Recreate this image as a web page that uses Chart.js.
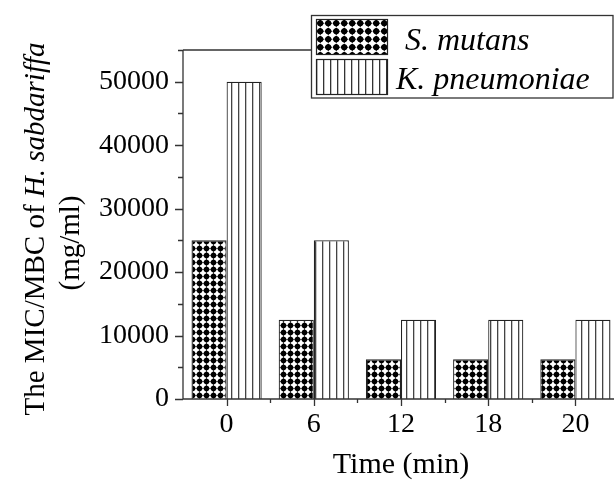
<!DOCTYPE html>
<html>
<head>
<meta charset="utf-8">
<script src="https://cdn.jsdelivr.net/npm/chart.js@4/dist/chart.umd.min.js"></script>
<style>
html,body{margin:0;padding:0;overflow:hidden;background:#fff;}
#wrap{width:619px;height:483px;position:relative;}
</style>
</head>
<body>
<div id="wrap"><canvas id="c" width="619" height="483"></canvas></div>
<script>
const categories = ['0', '6', '12', '18', '20'];
const sMutans = [25000, 12500, 6250, 6250, 6250];
const kPneumoniae = [50000, 25000, 12500, 12500, 12500];
const seriesNames = ['S. mutans', 'K. pneumoniae'];
const yTicks = [0, 10000, 20000, 30000, 40000, 50000];
const xTitle = 'Time (min)';
const yTitleParts = [['The MIC/MBC of ', false], ['H. sabdariffa', true]];
const yTitle2 = '(mg/ml)';

const FONT = '"Liberation Serif", "Times New Roman", serif';

function dotPattern(t, r) {
  const c = document.createElement('canvas');
  c.width = t; c.height = t;
  const g = c.getContext('2d');
  const h = t / 2;
  g.fillStyle = '#fff'; g.fillRect(0, 0, t, t);
  g.fillStyle = '#000';
  g.beginPath();
  g.moveTo(h, h - r); g.lineTo(h + r, h); g.lineTo(h, h + r); g.lineTo(h - r, h); g.closePath();
  g.fill();
  g.beginPath(); g.arc(h, h, r * 0.8, 0, Math.PI * 2); g.fill();
  return g.createPattern(c, 'repeat');
}
function stripePattern(t, col) {
  const c = document.createElement('canvas');
  c.width = t; c.height = t;
  const g = c.getContext('2d');
  g.fillStyle = '#fff'; g.fillRect(0, 0, t, t);
  g.fillStyle = col;
  g.fillRect(0, 0, 1.3, t);
  return g.createPattern(c, 'repeat');
}

const patS = dotPattern(7, 3.4);
const patK = stripePattern(7, '#444');
const patSLeg = dotPattern(8.5, 3.8);
const patKLeg = stripePattern(7.2, '#333');

const deco = {
  id: 'deco',
  afterDraw(chart) {
    const ctx = chart.ctx;
    const x = chart.scales.x, y = chart.scales.y;
    const a = chart.chartArea;
    ctx.save();
    ctx.strokeStyle = '#333';
    ctx.lineWidth = 1.3;
    ctx.beginPath();
    ctx.moveTo(a.left, a.top); ctx.lineTo(a.left, a.bottom); ctx.lineTo(a.right, a.bottom);
    ctx.moveTo(a.left, a.top); ctx.lineTo(a.right, a.top);
    ctx.stroke();
    ctx.beginPath();
    for (let v = 0; v <= y.max; v += 5000) {
      const py = Math.round(y.getPixelForValue(v)) + 0.5;
      const len = (v % 10000 === 0) ? 8 : 5;
      ctx.moveTo(a.left - len, py); ctx.lineTo(a.left, py);
    }
    const n = categories.length;
    for (let i = 0; i < n; i++) {
      const px = Math.round(x.getPixelForValue(i)) + 0.5;
      ctx.moveTo(px, a.bottom); ctx.lineTo(px, a.bottom + 7);
      if (i > 0) {
        const mx = Math.round((x.getPixelForValue(i) + x.getPixelForValue(i - 1)) / 2) + 0.5;
        ctx.moveTo(mx, a.bottom); ctx.lineTo(mx, a.bottom + 4);
      }
    }
    ctx.stroke();

    ctx.fillStyle = '#000';
    ctx.translate(36, 229);
    ctx.rotate(-Math.PI / 2);
    ctx.textBaseline = 'middle';
    let total = 0;
    const fonts = yTitleParts.map(p => (p[1] ? 'italic ' : '') + '29px ' + FONT);
    yTitleParts.forEach((p, i) => { ctx.font = fonts[i]; total += ctx.measureText(p[0]).width; });
    let sx = -total / 2;
    ctx.textAlign = 'left';
    yTitleParts.forEach((p, i) => { ctx.font = fonts[i]; ctx.fillText(p[0], sx, 0); sx += ctx.measureText(p[0]).width; });
    ctx.font = '29px ' + FONT;
    ctx.textAlign = 'center';
    ctx.fillText(yTitle2, -14, 35);
    ctx.restore();

    ctx.save();
    ctx.fillStyle = '#fff';
    ctx.fillRect(311, 15, 310, 83);
    ctx.strokeStyle = '#333';
    ctx.lineWidth = 1.3;
    ctx.strokeRect(311.5, 15.5, 301.5, 82.5);
    const items = [[patSLeg, 19, 405, 50], [patKLeg, 59, 396, 89]];
    chart.data.datasets.forEach((ds, i) => {
      const it = items[i];
      ctx.save();
      ctx.translate(316, it[1]);
      ctx.fillStyle = it[0];
      ctx.fillRect(0, 0, 72, 36);
      ctx.restore();
      ctx.strokeStyle = '#222';
      ctx.lineWidth = 1.2;
      ctx.strokeRect(316.5, it[1] + 0.5, 71, 35);
      ctx.fillStyle = '#000';
      ctx.font = 'italic 32px ' + FONT;
      ctx.textAlign = 'left';
      ctx.textBaseline = 'alphabetic';
      ctx.fillText(ds.label, it[2], it[3]);
    });
    ctx.restore();
  }
};

new Chart(document.getElementById('c'), {
  type: 'bar',
  data: {
    labels: categories,
    datasets: [
      { label: seriesNames[0], data: sMutans, backgroundColor: patS, borderColor: '#222', borderWidth: 1.2, borderSkipped: 'bottom' },
      { label: seriesNames[1], data: kPneumoniae, backgroundColor: patK, borderColor: '#222', borderWidth: 1.2, borderSkipped: 'bottom' }
    ]
  },
  options: {
    responsive: false,
    animation: false,
    devicePixelRatio: 1,
    layout: { padding: { top: 50, right: 0, left: 0, bottom: 0 } },
    plugins: { legend: { display: false }, tooltip: { enabled: false } },
    datasets: { bar: { categoryPercentage: 0.805, barPercentage: 1.0 } },
    scales: {
      x: {
        grid: { display: false, drawTicks: false },
        border: { display: false },
        ticks: { color: '#000', font: { family: FONT, size: 28 }, padding: 9 },
        title: { display: true, text: xTitle, color: '#000', font: { family: FONT, size: 30 }, padding: { top: 2, bottom: 0 } },
        afterFit(s) { s.height = 84; }
      },
      y: {
        min: 0, max: 55000,
        grid: { display: false, drawTicks: false },
        border: { display: false },
        afterBuildTicks(s) { s.ticks = yTicks.map(v => ({ value: v })); },
        ticks: { color: '#000', font: { family: FONT, size: 28 }, padding: 14, callback: (v) => String(v) },
        afterFit(s) { s.width = 183; }
      }
    }
  },
  plugins: [deco]
});
</script>
</body>
</html>
